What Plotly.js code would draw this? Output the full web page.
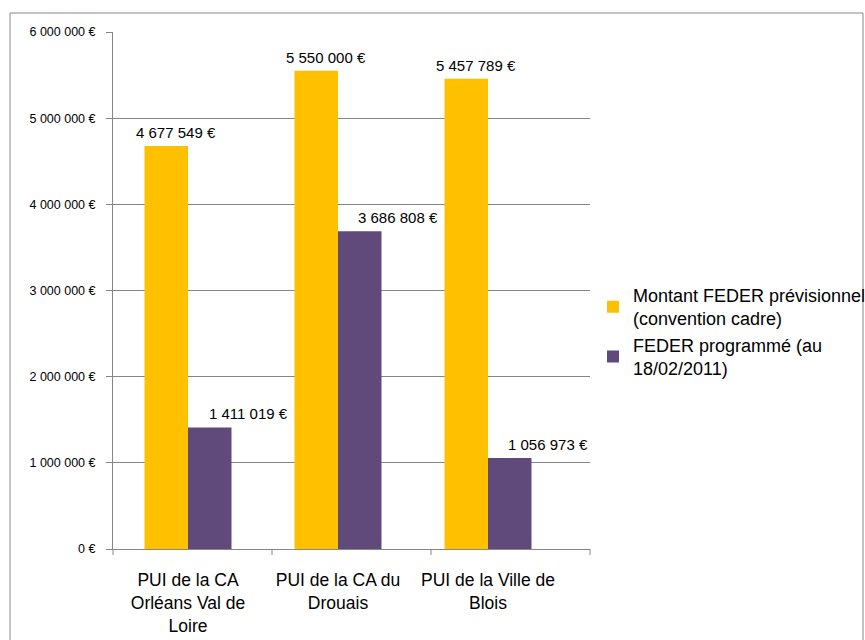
<!DOCTYPE html>
<html>
<head>
<meta charset="utf-8">
<script src="https://cdn.plot.ly/plotly-3.0.1.min.js"></script>
<style>html,body{margin:0;padding:0;background:#fff;}#chart{width:865px;height:640px;}</style>
</head>
<body>
<div id="chart"></div>
<script>
const categories = ["PUI de la CA<br>Orléans Val de<br>Loire", "PUI de la CA du<br>Drouais", "PUI de la Ville de<br>Blois"];
const seriesNames = ["Montant FEDER prévisionnel<br>(convention cadre)", "FEDER programmé (au<br>18/02/2011)"];
const prevValues = [4677549, 5550000, 5457789];
const progValues = [1411019, 3686808, 1056973];
const tickVals = [0, 1000000, 2000000, 3000000, 4000000, 5000000, 6000000];
const tickText = ["0 €", "1 000 000 €", "2 000 000 €", "3 000 000 €", "4 000 000 €", "5 000 000 €", "6 000 000 €"];

function fmt(v){
  return String(v).replace(/\B(?=(\d{3})+(?!\d))/g, " ") + " €";
}

const FONT = "Liberation Sans, Arial, sans-serif";
const labelFont = {family: FONT, size: 15, color: "#000"};

const traces = [
  {type: "bar", name: seriesNames[0], x: categories, y: prevValues,
   marker: {color: "#FFC000"}, hoverinfo: "none"},
  {type: "bar", name: seriesNames[1], x: categories, y: progValues,
   marker: {color: "#604A7B"}, hoverinfo: "none"}
];

const annotations = [];
categories.forEach((c, i) => {
  annotations.push({x: c, y: prevValues[i], xref: "x", yref: "y", text: fmt(prevValues[i]),
    showarrow: false, yanchor: "bottom", xanchor: "center", xshift: -12, yshift: 3, font: labelFont});
  annotations.push({x: c, y: progValues[i], xref: "x", yref: "y", text: fmt(progValues[i]),
    showarrow: false, yanchor: "bottom", xanchor: "center", xshift: 60, yshift: 3, font: labelFont});
});

const tick = (x) => ({type: "line", xref: "paper", yref: "paper", x0: x, x1: x, y0: 0, y1: -6/517,
  line: {color: "#868686", width: 1}});

const layout = {
  width: 865, height: 640,
  margin: {l: 113, r: 275, t: 32, b: 91, pad: 0},
  paper_bgcolor: "#fff", plot_bgcolor: "#fff",
  barmode: "group", bargap: 0.42, bargroupgap: 0,
  font: {family: FONT, color: "#000"},
  showlegend: true,
  legend: {x: 593/865, xref: "container", y: 0.42, yanchor: "middle", xanchor: "left",
           font: {size: 18, color: "#000", family: FONT}, itemwidth: 30,
           bgcolor: "rgba(0,0,0,0)"},
  xaxis: {showgrid: false, showline: true, linecolor: "#868686", linewidth: 1,
          ticks: "", tickfont: {size: 17.5, color: "#000"}, ticklabelstandoff: 15,
          automargin: false},
  yaxis: {range: [0, 6000000], tickvals: tickVals, ticktext: tickText,
          showgrid: true, gridcolor: "#868686", gridwidth: 1,
          showline: true, linecolor: "#868686", linewidth: 1,
          ticks: "outside", ticklen: 6, tickcolor: "#868686", ticklabelstandoff: 8,
          tickfont: {size: 12.5, color: "#000"}, zeroline: false, automargin: false},
  annotations: annotations,
  shapes: [
    {type: "rect", xref: "paper", yref: "paper", x0: -103/477, x1: 750/477, y0: -0.2, y1: 536/517,
     line: {color: "#888888", width: 1}, fillcolor: "rgba(0,0,0,0)", layer: "below"},
    tick(0), tick(1/3), tick(2/3), tick(1)
  ]
};

Plotly.newPlot("chart", traces, layout, {displayModeBar: false, staticPlot: true});
</script>
</body>
</html>
